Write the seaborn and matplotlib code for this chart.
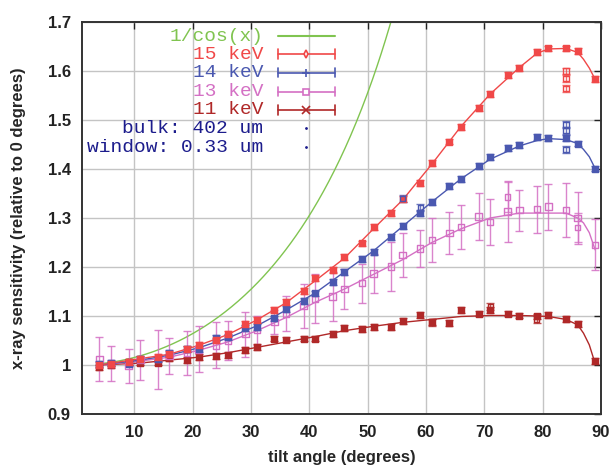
import numpy as np
import pandas as pd
import matplotlib
matplotlib.use("Agg")
import matplotlib.pyplot as plt
import seaborn as sns
from matplotlib.ticker import FormatStrFormatter

# tilt angles of the measurements (degrees)
angles = [4, 6, 9, 11, 14, 16, 19, 21, 24, 26, 29, 31, 34, 36, 39, 41, 44, 46,
          49, 51, 54, 56, 59, 61, 64, 66, 69, 71, 74, 76, 79, 81, 84, 86, 89]

kev15 = [1.000, 1.003, 1.006, 1.012, 1.016, 1.022, 1.032, 1.040, 1.050, 1.064,
         1.083, 1.092, 1.112, 1.129, 1.151, 1.178, 1.194, 1.220, 1.248, 1.281,
         1.310, 1.338, 1.372, 1.412, 1.456, 1.485, 1.525, 1.553, 1.592, 1.607,
         1.638, 1.646, 1.646, 1.641, 1.583]
kev14 = [1.002, 1.004, 1.003, 1.012, 1.013, 1.025, 1.032, 1.033, 1.055, 1.058,
         1.075, 1.078, 1.095, 1.114, 1.131, 1.146, 1.170, 1.190, 1.216, 1.231,
         1.261, 1.284, 1.311, 1.333, 1.366, 1.379, 1.407, 1.425, 1.443, 1.449,
         1.466, 1.463, 1.463, 1.452, 1.401]
kev13 = [1.012, 1.003, 0.998, 1.010, 1.012, 1.018, 1.025, 1.032, 1.040, 1.050,
         1.063, 1.071, 1.088, 1.105, 1.120, 1.135, 1.140, 1.155, 1.167, 1.187,
         1.201, 1.224, 1.238, 1.255, 1.269, 1.282, 1.303, 1.292, 1.313, 1.316,
         1.318, 1.323, 1.316, 1.300, 1.245]
kev13_err = [0.045, 0.035, 0.035, 0.040, 0.060, 0.037, 0.045, 0.047, 0.047, 0.040,
             0.046, 0.030, 0.025, 0.035, 0.045, 0.050, 0.050, 0.040, 0.040, 0.040,
             0.050, 0.045, 0.038, 0.045, 0.043, 0.045, 0.048, 0.047, 0.063, 0.042,
             0.048, 0.047, 0.055, 0.054, 0.052]
kev11 = [0.995, 1.000, 1.007, 1.005, 1.005, 1.014, 1.010, 1.017, 1.018, 1.020,
         1.031, 1.037, 1.054, 1.052, 1.054, 1.054, 1.063, 1.075, 1.073, 1.078,
         1.078, 1.090, 1.102, 1.088, 1.085, 1.112, 1.105, 1.113, 1.105, 1.101,
         1.099, 1.102, 1.093, 1.083, 1.008]

# repeated measurements that fall off the main trend
extra_angles = [84, 84, 84, 56, 59, 84, 84, 84, 74, 86, 61, 71, 79]
extra_vals = [1.600, 1.585, 1.565, 1.339, 1.322, 1.490, 1.478, 1.440, 1.343, 1.280,
              1.086, 1.119, 1.093]
extra_series = ["15", "15", "15", "14", "14", "14", "14", "14", "13", "13",
                "11", "11", "11"]

# fitted curves
fit_angles = [4, 11, 16, 21, 26, 31, 36, 41, 46, 51, 56, 61, 66, 71, 76, 79, 81,
              84, 86, 87, 88, 89]
fit15 = [1.000, 1.013, 1.022, 1.040, 1.062, 1.092, 1.127, 1.172, 1.218, 1.278,
         1.337, 1.410, 1.487, 1.553, 1.607, 1.636, 1.645, 1.646, 1.638, 1.624,
         1.606, 1.583]
fit14 = [1.000, 1.010, 1.020, 1.035, 1.055, 1.080, 1.112, 1.147, 1.190, 1.233,
         1.283, 1.333, 1.380, 1.420, 1.447, 1.458, 1.462, 1.460, 1.452, 1.440,
         1.425, 1.401]
fit13 = [1.000, 1.008, 1.016, 1.030, 1.047, 1.070, 1.097, 1.128, 1.155, 1.185,
         1.215, 1.250, 1.278, 1.300, 1.310, 1.310, 1.310, 1.310, 1.300, 1.290,
         1.270, 1.235]
fit11 = [1.000, 1.004, 1.010, 1.016, 1.025, 1.036, 1.047, 1.058, 1.070, 1.079,
         1.087, 1.093, 1.099, 1.101, 1.101, 1.100, 1.099, 1.093, 1.082, 1.065,
         1.041, 1.003]

colors = {"15": "#f04848", "14": "#4a58b0", "13": "#d470c4", "11": "#b02828"}
green = "#80c450"
navy = "#1c1c8c"

sns.set_style("white")
plt.rcParams["font.family"] = ["Liberation Sans", "DejaVu Sans"]

fig, ax = plt.subplots(figsize=(6.1, 4.67), dpi=100)
fig.subplots_adjust(left=0.1344, right=0.9852, top=0.9529, bottom=0.1135)

# 1/cos(x) reference curve
xc = np.linspace(4, 60, 300)
sns.lineplot(x=xc, y=1 / np.cos(np.radians(xc)), color=green, lw=1.0, ax=ax)

fits = pd.DataFrame({"angle": fit_angles, "15": fit15, "14": fit14,
                     "13": fit13, "11": fit11})
points = pd.DataFrame({"angle": angles, "15": kev15, "14": kev14,
                       "13": kev13, "11": kev11})
errs = {"15": 0.006, "14": 0.006, "13": np.array(kev13_err), "11": 0.006}

for key in ["11", "13", "14", "15"]:
    c = colors[key]
    sns.lineplot(data=fits, x="angle", y=key, color=c, lw=1.0, ax=ax)
    ax.errorbar(points["angle"], points[key], yerr=errs[key], fmt="none",
                ecolor=c, elinewidth=1.0, capsize=3, capthick=1.0, alpha=0.85)
    filled = key != "13"
    sns.scatterplot(data=points, x="angle", y=key, marker="s", s=22,
                    color=c if filled else "none", edgecolor=c, linewidth=1.0,
                    ax=ax, zorder=3)

extra = pd.DataFrame({"angle": extra_angles, "val": extra_vals, "s": extra_series})
for key, grp in extra.groupby("s"):
    c = colors[key]
    e = 0.03 if key == "13" else 0.007
    ax.errorbar(grp["angle"], grp["val"], yerr=e, fmt="none", ecolor=c,
                elinewidth=1.0, capsize=3, capthick=1.0, alpha=0.8)
    sns.scatterplot(data=grp, x="angle", y="val", marker="s", s=14,
                    color="none", edgecolor=c, linewidth=1.0, ax=ax, zorder=3)

ax.set_xlim(1, 90)
ax.set_ylim(0.9, 1.7)
ax.set_xticks(range(10, 91, 10))
ax.set_yticks(np.arange(0.9, 1.71, 0.1))
ax.yaxis.set_major_formatter(FormatStrFormatter("%g"))
ax.grid(True, color="#c4c4c4", lw=1.0)
ax.tick_params(direction="in", length=5, width=1, top=True, right=True,
               labelsize=12, pad=8, colors="#222222")
for lab in ax.get_xticklabels() + ax.get_yticklabels():
    lab.set_fontweight("bold")
for sp in ax.spines.values():
    sp.set_color("#333333")
    sp.set_linewidth(1.4)

ax.set_xlabel("tilt angle (degrees)", fontsize=12, fontweight="bold", labelpad=7)
ax.set_ylabel("x-ray sensitivity (relative to 0 degrees)", fontsize=12,
              fontweight="bold", labelpad=16)

# gnuplot-style key in the top-left corner
mono = ["Liberation Mono", "DejaVu Sans Mono"]
rows = [0.964, 0.918, 0.871, 0.822, 0.776, 0.729, 0.680]
tx, x0, x1, xm = 0.349, 0.378, 0.487, 0.432
key_items = [("1/cos(x)", green, None),
             ("15 keV", colors["15"], "d"),
             ("14 keV", colors["14"], "+"),
             ("13 keV", colors["13"], "s"),
             ("11 keV", colors["11"], "x")]
for (label, c, m), y in zip(key_items, rows):
    ax.text(tx, y, label, color=c, fontsize=14, family=mono, ha="right",
            va="center", transform=ax.transAxes)
    ax.plot([x0, x1], [y, y], color=c, lw=1.2 if m else 1.5,
            transform=ax.transAxes, clip_on=False)
    if m:
        ax.plot([x0, x0], [y - 0.012, y + 0.012], color=c, lw=1.2,
                transform=ax.transAxes)
        ax.plot([x1, x1], [y - 0.012, y + 0.012], color=c, lw=1.2,
                transform=ax.transAxes)
        ax.plot([xm], [y], marker=m, ms=6 if m in "+x" else 4,
                mfc="white" if m in "sd" else c, mec=c, mew=1.2,
                transform=ax.transAxes)
for label, y in [("bulk: 402 um", rows[5]), ("window: 0.33 um", rows[6])]:
    ax.text(tx, y, label, color=navy, fontsize=14, family=mono, ha="right",
            va="center", transform=ax.transAxes)
    ax.plot([xm], [y], marker=".", ms=2, color=navy, transform=ax.transAxes)

fig.savefig("out.png", dpi=100)
